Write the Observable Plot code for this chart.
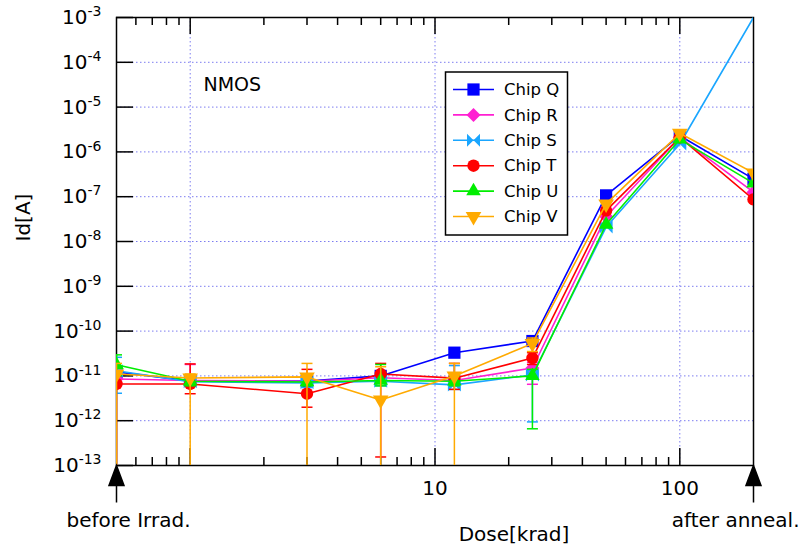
<!DOCTYPE html>
<html><head><meta charset="utf-8">
<script src="https://cdn.jsdelivr.net/npm/d3@7"></script>
<script src="https://cdn.jsdelivr.net/npm/@observablehq/plot@0.6"></script>
<style>body{margin:0;background:#fff;} svg{display:block}</style>
</head><body><div id="chart"></div>
<script>
// ---------------- data ----------------
const dose = [0.5, 1, 3, 6, 12, 25, 50, 100, 200];
const chipNames = ["Chip Q", "Chip R", "Chip S", "Chip T", "Chip U", "Chip V"];
const chipQ = [1.23e-11, 7.7e-12, 7.7e-12, 1.0e-11, 3.3e-11, 6.0e-11, 1.07e-7, 2.3e-6, 2.5e-7];
const chipR = [8.5e-12, 7.9e-12, 7.6e-12, 9.1e-12, 7.9e-12, 1.5e-11, 3.6e-8, 2.1e-6, 1.26e-7];
const chipS = [1.3e-11, 7.4e-12, 7.0e-12, 7.6e-12, 6.3e-12, 1.05e-11, 2.1e-8, 1.5e-6, 1e-3];
const chipT = [6.6e-12, 6.6e-12, 4.0e-12, 1.1e-11, 8.9e-12, 2.5e-11, 4.9e-8, 2.1e-6, 8.7e-8];
const chipU = [1.77e-11, 7.6e-12, 7.3e-12, 7.9e-12, 7.6e-12, 1.0e-11, 2.4e-8, 1.9e-6, 2.0e-7];
const chipV = [1.1e-11, 9.0e-12, 9.5e-12, 2.9e-12, 1.0e-11, 5.3e-11, 6.9e-8, 2.6e-6, 3.4e-7];
// error bars (first six doses); 1e-14 = runs off the bottom of the plot
const errDose = [0.5, 1, 3, 6, 12, 25];
const loQ = [1.0e-11, 6.5e-12, 6.5e-12, 8.5e-12, 2.8e-11, 5.0e-11];
const hiQ = [1.5e-11, 9.0e-12, 9.0e-12, 1.2e-11, 3.9e-11, 7.2e-11];
const loR = [7.0e-12, 6.5e-12, 6.5e-12, 7.5e-12, 6.5e-12, 6.5e-12];
const hiR = [1.0e-11, 1.8e-11, 9.0e-12, 1.1e-11, 9.5e-12, 2.0e-11];
const loS = [4.1e-12, 6.0e-12, 5.5e-12, 6.0e-12, 5.0e-12, 9.4e-13];
const hiS = [2.6e-11, 9.0e-12, 9.0e-12, 1.0e-11, 1.7e-11, 1.3e-11];
const loT = [1e-14, 4.0e-12, 2.0e-12, 1.55e-13, 5.0e-12, 1.8e-11];
const hiT = [1.2e-11, 1.85e-11, 1.4e-11, 1.9e-11, 1.9e-11, 3.3e-11];
const loU = [1.0e-11, 6.0e-12, 6.0e-12, 6.0e-12, 6.0e-12, 6.6e-13];
const hiU = [2.95e-11, 1.0e-11, 1.0e-11, 1.8e-11, 1.0e-11, 1.4e-11];
const loV = [1e-14, 1e-14, 1e-14, 1e-14, 1e-14, 3.5e-11];
const hiV = [1.9e-11, 1.1e-11, 1.9e-11, 1.6e-11, 1.9e-11, 7.0e-11];
// axes
const xMajor = [1, 10, 100];
const xMinor = [0.6, 0.7, 0.8, 0.9, 2, 3, 4, 5, 6, 7, 8, 9, 20, 30, 40, 50, 60, 70, 80, 90];
const xLabels = [10, 100];
const yMajor = [1e-13, 1e-12, 1e-11, 1e-10, 1e-9, 1e-8, 1e-7, 1e-6, 1e-5, 1e-4, 1e-3];
const yLabels = ["10^-13", "10^-12", "10^-11", "10^-10", "10^-9", "10^-8", "10^-7", "10^-6", "10^-5", "10^-4", "10^-3"];
const yGrid = [1e-12, 1e-11, 1e-10, 1e-9, 1e-8, 1e-7, 1e-6, 1e-5, 1e-4];
const arrowDoses = [0.5, 200];

// ---------------- build ----------------
const bowtie = {draw(ctx, size) { const s = Math.sqrt(size / Math.PI);
  ctx.moveTo(-s, -s); ctx.lineTo(0, 0); ctx.lineTo(-s, s); ctx.closePath();
  ctx.moveTo(s, -s); ctx.lineTo(0, 0); ctx.lineTo(s, s); ctx.closePath(); }};
const capSym = {draw(ctx) { ctx.moveTo(-5.5, 0); ctx.lineTo(5.5, 0); }};
const arrowSym = {draw(ctx) { ctx.moveTo(0, -10); ctx.lineTo(7.5, 10); ctx.lineTo(-7.5, 10); ctx.closePath();
  ctx.moveTo(0, 10); ctx.lineTo(0, 27); }};

const vals = [chipQ, chipR, chipS, chipT, chipU, chipV];
const los = [loQ, loR, loS, loT, loU, loV];
const his = [hiQ, hiR, hiS, hiT, hiU, hiV];
const colors = ["#0000ff", "#ff1fd2", "#1aa6ff", "#ff0000", "#00ee00", "#ffaa00"];
const symbols = ["square", "diamond2", bowtie, "circle", "triangle", "triangle"];
const d3syms = [d3.symbolSquare, d3.symbolDiamond2, bowtie, d3.symbolCircle, d3.symbolTriangle, d3.symbolTriangle];
const radii = [6.9, 6.3, 6.5, 6.2, 5.4, 5.8];
const rotates = [0, 0, 0, 0, 0, 180];

const series = chipNames.map((name, i) => ({
  name, color: colors[i], symbol: symbols[i], d3sym: d3syms[i], r: radii[i], rotate: rotates[i],
  pts: dose.map((d, j) => ({dose: d, v: vals[i][j]})),
  err: errDose.map((d, j) => ({dose: d, lo: los[i][j], hi: his[i][j]}))
}));

const W = 805, H = 548, mL = 116, mR = 52, mT = 17, mB = 83;
const plotW = W - mL - mR, plotH = H - mT - mB;
const gridColor = "#7c7cf0";

const marks = [
  Plot.ruleX(xMajor, {x: d => d, stroke: gridColor, strokeDasharray: "1.5,2.5", strokeWidth: 1}),
  Plot.ruleY(yGrid, {y: d => d, stroke: gridColor, strokeDasharray: "1.5,2.5", strokeWidth: 1}),
  Plot.frame({stroke: "black", strokeWidth: 1.5}),
  Plot.tickX(xMajor, {x: d => d, insetTop: plotH - 17, stroke: "black", strokeWidth: 1.5}),
  Plot.tickX(xMinor, {x: d => d, insetTop: plotH - 8, stroke: "black", strokeWidth: 1.5}),
  Plot.tickX(xMajor, {x: d => d, insetBottom: plotH - 17, stroke: "black", strokeWidth: 1.5}),
  Plot.tickX(xMinor, {x: d => d, insetBottom: plotH - 8, stroke: "black", strokeWidth: 1.5}),
  Plot.tickY(yMajor, {y: d => d, insetRight: plotW - 17, stroke: "black", strokeWidth: 1.5})
];
for (const s of series) {
  marks.push(
    Plot.ruleX(s.err, {x: "dose", y1: "lo", y2: "hi", stroke: s.color, strokeWidth: 1.5, clip: true}),
    Plot.dot(s.err, {x: "dose", y: "lo", symbol: capSym, stroke: s.color, fill: "none", strokeWidth: 1.5, clip: true}),
    Plot.dot(s.err, {x: "dose", y: "hi", symbol: capSym, stroke: s.color, fill: "none", strokeWidth: 1.5, clip: true}),
    Plot.line(s.pts, {x: "dose", y: "v", stroke: s.color, strokeWidth: 1.6, clip: true}),
    Plot.dot(s.pts.filter(p => p.v < 1e-3), {x: "dose", y: "v", symbol: s.symbol, r: s.r, fill: s.color, stroke: "none", rotate: s.rotate, clip: true})
  );
}
marks.push(
  Plot.text(xLabels, {x: d => d, text: d => String(d), frameAnchor: "bottom", dy: 29, lineAnchor: "bottom", fontSize: 20}),
  Plot.text(yMajor, {y: d => d, text: (d, i) => yLabels[i], frameAnchor: "left", dx: -15, textAnchor: "end", lineAnchor: "middle", fontSize: 20}),
  Plot.text(["Id[A]"], {frameAnchor: "left", dx: -93, rotate: -90, fontSize: 20}),
  Plot.text(["Dose[krad]"], {frameAnchor: "bottom", dx: 79, dy: 75, lineAnchor: "bottom", fontSize: 20}),
  Plot.text(["before Irrad."], {x: [0.5], frameAnchor: "bottom", dx: -50, dy: 61, textAnchor: "start", lineAnchor: "bottom", fontSize: 20}),
  Plot.text(["after anneal."], {x: [200], frameAnchor: "bottom", dx: 46, dy: 61, textAnchor: "end", lineAnchor: "bottom", fontSize: 20}),
  Plot.text(["NMOS"], {frameAnchor: "top-left", dx: 87, dy: 67, textAnchor: "start", lineAnchor: "middle", fontSize: 19}),
  Plot.dot(arrowDoses, {x: d => d, frameAnchor: "bottom", dy: 10, symbol: arrowSym, fill: "black", stroke: "black", strokeWidth: 1.5})
);

const chart = Plot.plot({
  width: W, height: H,
  marginLeft: mL, marginRight: mR, marginTop: mT, marginBottom: mB,
  x: {type: "log", domain: [0.5, 200], axis: null},
  y: {type: "log", domain: [1e-13, 1e-3], axis: null},
  style: {fontFamily: "DejaVu Sans", background: "white", color: "black"},
  marks
});

// superscript exponents on y tick labels
d3.select(chart).selectAll("text").each(function() {
  const m = /^10\^(.+)$/.exec(this.textContent);
  if (m) {
    this.textContent = "10";
    d3.select(this).append("tspan").attr("dy", "-0.55em").attr("font-size", 14).text(m[1]);
  }
});

// legend
const lg = d3.select(chart).append("g").attr("font-family", "DejaVu Sans").attr("text-anchor", "start");
lg.append("rect").attr("x", 445.5).attr("y", 72).attr("width", 122).attr("height", 163)
  .attr("fill", "white").attr("stroke", "black").attr("stroke-width", 1.5);
series.forEach((s, i) => {
  const y = 89.5 + i * 25.4;
  lg.append("line").attr("x1", 453).attr("x2", 494).attr("y1", y).attr("y2", y)
    .attr("stroke", s.color).attr("stroke-width", 1.6);
  lg.append("path").attr("d", d3.symbol(s.d3sym, Math.PI * s.r * s.r)())
    .attr("transform", `translate(473.5,${y}) rotate(${s.rotate})`).attr("fill", s.color);
  lg.append("text").attr("x", 504).attr("y", y).attr("dy", "0.35em").attr("font-size", 16.5)
    .attr("text-anchor", "start").attr("fill", "black").text(s.name);
});

document.getElementById("chart").appendChild(chart);
</script></body></html>
